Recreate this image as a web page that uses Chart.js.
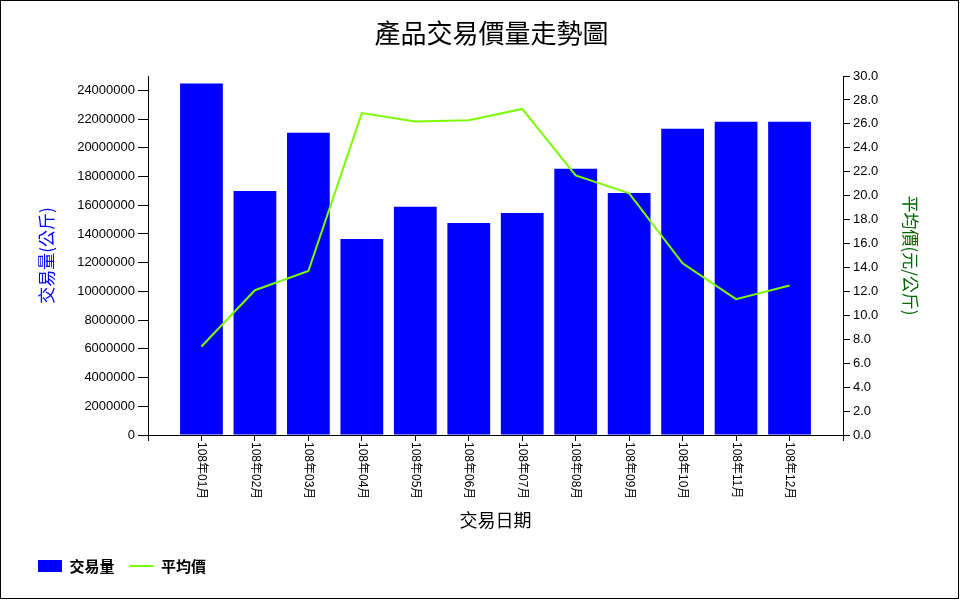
<!DOCTYPE html>
<html>
<head>
<meta charset="utf-8">
<title>產品交易價量走勢圖</title>
<script src="https://cdn.jsdelivr.net/npm/chart.js@4/dist/chart.umd.min.js"></script>
<style>
  html, body { margin: 0; padding: 0; background: #fff; }
  canvas { display: block; }
</style>
</head>
<body>
<canvas id="priceChart" width="960" height="600"></canvas>
<script>
// months on the x axis
const months = ['108年01月', '108年02月', '108年03月', '108年04月', '108年05月', '108年06月',
                '108年07月', '108年08月', '108年09月', '108年10月', '108年11月', '108年12月'];

// trade volume (kg) per month
const volumes = [24480000, 17000000, 21050000, 13650000, 15900000, 14770000,
                 15460000, 18540000, 16860000, 21330000, 21820000, 21820000];

// average price (元/公斤) per month
const avgPrices = [7.4, 12.1, 13.7, 26.9, 26.2, 26.3, 27.25, 21.7, 20.2, 14.35, 11.35, 12.5];

// left axis goes a bit past its last labelled tick
const volumeMax = 25000000;
const volumeStep = 2000000;
const volumeLastTick = 24000000;

const labelFont = '"Liberation Sans", "Noto Sans CJK TC", sans-serif';
const cjkFont = '"Noto Sans CJK TC", "Liberation Sans", sans-serif';

Chart.defaults.font.family = labelFont;
Chart.defaults.color = '#000';

// month labels read top to bottom, so draw them ourselves at the x scale positions
const monthLabels = {
  id: 'monthLabels',
  afterDraw(chart) {
    const ctx = chart.ctx;
    const xs = chart.scales.x;
    ctx.save();
    ctx.fillStyle = '#000';
    ctx.font = '12px ' + labelFont;
    ctx.textAlign = 'left';
    ctx.textBaseline = 'middle';
    months.forEach((m, i) => {
      const px = xs.getPixelForValue(i + 1);
      ctx.save();
      ctx.translate(px, xs.top + 7);
      ctx.rotate(Math.PI / 2);
      ctx.fillText(m, 0, 0);
      ctx.restore();
    });
    ctx.restore();
  }
};

// thin frame around the whole picture
const frame = {
  id: 'frame',
  afterDraw(chart) {
    const ctx = chart.ctx;
    ctx.save();
    ctx.strokeStyle = '#000';
    ctx.lineWidth = 1;
    ctx.strokeRect(0.5, 0.5, 958, 598);
    ctx.restore();
  }
};

const ctx = document.getElementById('priceChart');
new Chart(ctx, {
  type: 'bar',
  data: {
    datasets: [{
      label: '交易量',
      data: volumes.map((v, i) => ({ x: i + 1, y: v })),
      backgroundColor: '#0000FF',
      borderWidth: 0,
      barPercentage: 0.8,
      categoryPercentage: 1,
      yAxisID: 'y',
      order: 1
    }, {
      type: 'line',
      label: '平均價',
      data: avgPrices.map((v, i) => ({ x: i + 1, y: v })),
      borderColor: '#7CFC00',
      backgroundColor: '#7CFC00',
      borderWidth: 2,
      tension: 0,
      pointRadius: 0,
      fill: false,
      yAxisID: 'y1',
      order: 0
    }]
  },
  options: {
    responsive: false,
    animation: false,
    layout: {
      padding: { left: 23, right: 0, top: 0, bottom: 16.5 }
    },
    plugins: {
      title: {
        display: true,
        text: '產品交易價量走勢圖',
        color: '#000',
        font: { family: cjkFont, size: 26, weight: 'normal' },
        padding: { top: 17.4, bottom: 27.4 }
      },
      legend: {
        display: true,
        position: 'bottom',
        align: 'start',
        labels: {
          usePointStyle: true,
          pointStyleWidth: 24,
          boxWidth: 24,
          boxHeight: 12,
          padding: 15,
          color: '#000',
          font: { family: cjkFont, size: 15, weight: 'bold' },
          generateLabels(chart) {
            const items = Chart.defaults.plugins.legend.labels.generateLabels(chart);
            items.sort((a, b) => a.datasetIndex - b.datasetIndex);
            items.forEach(item => {
              item.pointStyle = item.datasetIndex === 0 ? 'rect' : 'line';
            });
            return items;
          }
        }
      },
      tooltip: { enabled: false }
    },
    scales: {
      x: {
        type: 'linear',
        position: 'bottom',
        offset: false,
        min: 0,
        max: 13,
        afterBuildTicks(scale) {
          const ticks = [{ value: 0 }];
          months.forEach((m, i) => ticks.push({ value: i + 1 }));
          ticks.push({ value: 13 });
          scale.ticks = ticks;
        },
        afterFit(scale) {
          scale.height = 108.5;
        },
        ticks: { display: false },
        grid: {
          offset: false,
          drawOnChartArea: false,
          drawTicks: true,
          tickLength: 6,
          color: '#000'
        },
        border: { display: true, color: '#000' },
        title: {
          display: true,
          text: '交易日期',
          color: '#000',
          font: { family: cjkFont, size: 18, weight: 'normal' },
          padding: { top: 0, bottom: 12.7 }
        }
      },
      y: {
        type: 'linear',
        position: 'left',
        min: 0,
        max: volumeMax,
        bounds: 'data',
        afterBuildTicks(scale) {
          const ticks = [];
          for (let v = 0; v <= volumeLastTick; v += volumeStep) ticks.push({ value: v });
          scale.ticks = ticks;
        },
        afterFit(scale) {
          scale.width = 125;
        },
        ticks: {
          padding: 3,
          color: '#000',
          font: { size: 13 },
          callback: v => String(v)
        },
        grid: {
          drawOnChartArea: false,
          drawTicks: true,
          tickLength: 10,
          color: '#000'
        },
        border: { display: true, color: '#000' },
        title: {
          display: true,
          text: '交易量(公斤)',
          color: '#0000FF',
          font: { family: cjkFont, size: 17, weight: 'normal' },
          padding: { top: 13.8, bottom: 0 }
        }
      },
      y1: {
        type: 'linear',
        position: 'right',
        min: 0,
        max: 30,
        bounds: 'data',
        afterFit(scale) {
          scale.width = 117;
        },
        ticks: {
          stepSize: 2,
          maxTicksLimit: 30,
          padding: 3,
          color: '#000',
          font: { size: 13 },
          callback: v => v.toFixed(1)
        },
        grid: {
          drawOnChartArea: false,
          drawTicks: true,
          tickLength: 7,
          color: '#000'
        },
        border: { display: true, color: '#000' },
        title: {
          display: true,
          text: '平均價(元/公斤)',
          color: '#006400',
          font: { family: cjkFont, size: 17, weight: 'normal' },
          padding: { top: 39.8, bottom: 0 }
        }
      }
    }
  },
  plugins: [monthLabels, frame]
});
</script>
</body>
</html>
